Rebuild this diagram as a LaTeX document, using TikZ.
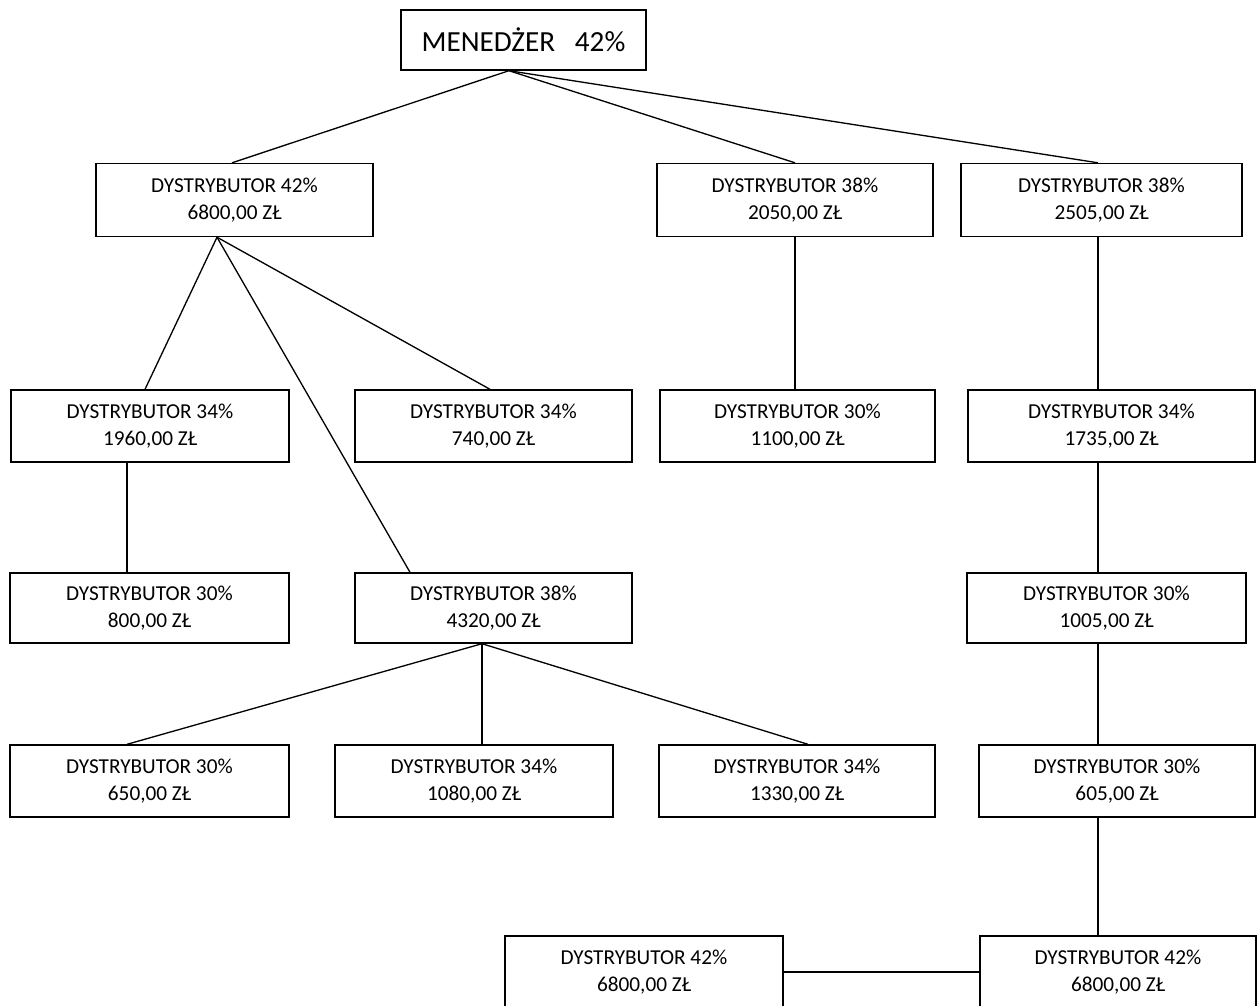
\documentclass[tikz,border=0pt]{standalone}
\usepackage{fontspec}
\setmainfont{Carlito}
\usepackage{tikz}

\tikzset{
  dbox/.style={draw, line width=0.8pt, align=center, inner sep=0pt,
    minimum height=1.46cm, font=\fontsize{12.1}{15.4}\selectfont},
  mbox/.style={draw, line width=0.8pt, align=center, inner sep=0pt,
    minimum width=4.9cm, minimum height=1.2cm, font=\fontsize{16.6}{20}\selectfont},
  link/.style={line width=0.75pt}
}

\begin{document}
\begin{tikzpicture}[x=0.02cm, y=-0.02cm]
  \useasboundingbox (0,0) rectangle (1258,1005);

  % Manager
  \node[mbox] (mgr) at (523.5,40) {MENEDŻER~~~42\%};

  % First line of distributors
  \node[dbox, minimum width=5.54cm] (dA) at (234.5,200) {DYSTRYBUTOR 42\%\\6800,00 ZŁ};
  \node[dbox, minimum width=5.52cm] (dB) at (795,200) {DYSTRYBUTOR 38\%\\2050,00 ZŁ};
  \node[dbox, minimum width=5.62cm] (dC) at (1101.5,200) {DYSTRYBUTOR 38\%\\2505,00 ZŁ};

  % Second line
  \node[dbox, minimum width=5.56cm, minimum height=1.44cm] (dD) at (150,426) {DYSTRYBUTOR 34\%\\1960,00 ZŁ};
  \node[dbox, minimum width=5.54cm, minimum height=1.44cm] (dE) at (493.5,426) {DYSTRYBUTOR 34\%\\740,00 ZŁ};
  \node[dbox, minimum width=5.5cm, minimum height=1.44cm] (dF) at (797.5,426) {DYSTRYBUTOR 30\%\\1100,00 ZŁ};
  \node[dbox, minimum width=5.74cm, minimum height=1.44cm] (dG) at (1111.5,426) {DYSTRYBUTOR 34\%\\1735,00 ZŁ};

  % Third line
  \node[dbox, minimum width=5.58cm, minimum height=1.4cm] (dH) at (149.5,608) {DYSTRYBUTOR 30\%\\800,00 ZŁ};
  \node[dbox, minimum width=5.54cm, minimum height=1.4cm] (dI) at (493.5,608) {DYSTRYBUTOR 38\%\\4320,00 ZŁ};
  \node[dbox, minimum width=5.58cm, minimum height=1.4cm] (dJ) at (1106.5,608) {DYSTRYBUTOR 30\%\\1005,00 ZŁ};

  % Fourth line
  \node[dbox, minimum width=5.58cm, minimum height=1.44cm] (dK) at (149.5,781) {DYSTRYBUTOR 30\%\\650,00 ZŁ};
  \node[dbox, minimum width=5.56cm, minimum height=1.44cm] (dL) at (474,781) {DYSTRYBUTOR 34\%\\1080,00 ZŁ};
  \node[dbox, minimum width=5.52cm, minimum height=1.44cm] (dM) at (797,781) {DYSTRYBUTOR 34\%\\1330,00 ZŁ};
  \node[dbox, minimum width=5.52cm, minimum height=1.44cm] (dN) at (1117,781) {DYSTRYBUTOR 30\%\\605,00 ZŁ};

  % Last line (cut by the page)
  \node[dbox, minimum width=5.56cm, minimum height=1.44cm] (dO) at (644,972) {DYSTRYBUTOR 42\%\\6800,00 ZŁ};
  \node[dbox, minimum width=5.52cm, minimum height=1.44cm] (dP) at (1118,972) {DYSTRYBUTOR 42\%\\6800,00 ZŁ};

  % Attachment points
  \coordinate (mgrout) at ([xshift=-0.29cm]mgr.south);
  \coordinate (dAout) at ([xshift=-0.35cm]dA.south);
  \coordinate (dDout) at ([xshift=-0.46cm]dD.south);
  \coordinate (dIout) at ([xshift=-0.23cm]dI.south);
  \coordinate (col) at (1098,0);

  % Links
  \draw[link] (mgrout) -- ([xshift=-0.05cm]dA.north);
  \draw[link] (mgrout) -- (dB.north);
  \draw[link] (mgrout) -- (col |- dC.north);
  \draw[link] (dAout) -- ([xshift=-0.1cm]dD.north);
  \draw[link] (dAout) -- ([xshift=-1.67cm]dI.north);
  \draw[link] (dAout) -- ([xshift=-0.07cm]dE.north);
  \draw[link] (dB.south) -- (dB.south |- dF.north);
  \draw[link] (col |- dC.south) -- (col |- dG.north);
  \draw[link] (dDout) -- (dDout |- dH.north);
  \draw[link] (col |- dG.south) -- (col |- dJ.north);
  \draw[link] (dIout) -- ([xshift=-0.45cm]dK.north);
  \draw[link] (dIout) -- (dIout |- dL.north);
  \draw[link] (dIout) -- ([xshift=0.22cm]dM.north);
  \draw[link] (col |- dJ.south) -- (col |- dN.north);
  \draw[link] (col |- dN.south) -- (col |- dP.north);
  \draw[link] (dO.east) -- (dO.east -| dP.west);
\end{tikzpicture}
\end{document}
